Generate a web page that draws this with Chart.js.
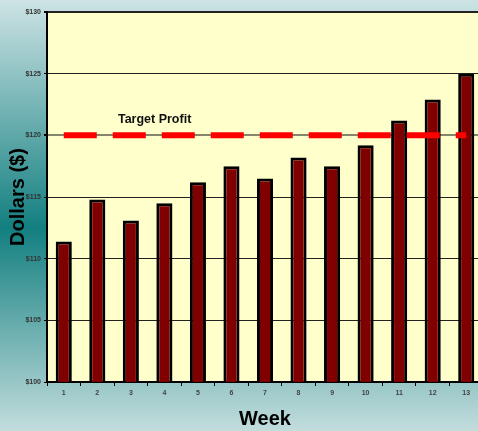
<!DOCTYPE html>
<html>
<head>
<meta charset="utf-8">
<script src="https://cdn.jsdelivr.net/npm/chart.js@4"></script>
<style>
  html, body {
    margin: 0;
    padding: 0;
    width: 478px;
    height: 431px;
    overflow: hidden;
    background: linear-gradient(to bottom, #cde3e4 0%, #137f80 53%, #c3dddd 100%);
  }
  #wrap { position: absolute; left: 0; top: 0; width: 483px; height: 431px; }
</style>
</head>
<body>
<div id="wrap"><canvas id="chart"></canvas></div>
<script>
const weeks = ['1', '2', '3', '4', '5', '6', '7', '8', '9', '10', '11', '12', '13'];
const profit = [111.4, 114.8, 113.1, 114.5, 116.2, 117.5, 116.5, 118.2, 117.5, 119.2, 121.2, 122.9, 125.0];
const target = 120;
const targetLabel = 'Target Profit';
const yMin = 100, yMax = 130, yStep = 5;

const FONT = '"Liberation Sans", Arial, sans-serif';

// yellow plot area + the "Target Profit" caption
const plotBg = {
    id: 'plotBg',
    beforeDraw(chart) {
        const { ctx, chartArea: a } = chart;
        ctx.save();
        ctx.fillStyle = '#ffffcc';
        ctx.fillRect(a.left, a.top, a.right - a.left, a.bottom - a.top);
        ctx.restore();
    },
    afterDatasetsDraw(chart) {
        const { ctx, scales } = chart;
        const x = (scales.x.getPixelForValue(2) + scales.x.getPixelForValue(3)) / 2 + 7;
        const y = scales.y.getPixelForValue(target) - 12;
        ctx.save();
        ctx.font = 'bold 12.5px ' + FONT;
        ctx.fillStyle = '#111';
        ctx.textAlign = 'center';
        ctx.textBaseline = 'alphabetic';
        ctx.fillText(targetLabel, x, y);
        ctx.restore();
    }
};

new Chart(document.getElementById('chart'), {
    data: {
        labels: weeks,
        datasets: [
            {
                type: 'line',
                data: weeks.map(() => target),
                borderColor: '#ff0000',
                borderWidth: 6,
                borderDash: [33, 16],
                borderCapStyle: 'butt',
                pointRadius: 0,
                fill: false,
                order: 0
            },
            {
                type: 'bar',
                data: profit,
                backgroundColor: '#800000',
                borderColor: '#000000',
                borderWidth: 3,
                barPercentage: 0.48,
                categoryPercentage: 1,
                order: 1
            }
        ]
    },
    options: {
        responsive: true,
        maintainAspectRatio: false,
        animation: false,
        layout: { padding: { top: 12, right: 0, left: 0, bottom: 0 } },
        plugins: { legend: { display: false }, tooltip: { enabled: false } },
        scales: {
            x: {
                offset: true,
                afterFit: s => { s.height = 49; },
                grid: { drawOnChartArea: false, color: '#000', tickLength: 4 },
                border: { color: '#000', width: 2 },
                ticks: { color: '#444', padding: 3, font: { family: FONT, size: 7, weight: 'bold' } },
                title: { display: true, text: 'Week', color: '#000', padding: { top: 0, bottom: 0 },
                         font: { family: FONT, size: 20, weight: 'bold' } }
            },
            y: {
                min: yMin,
                max: yMax,
                afterFit: s => { s.width = 47; },
                grid: {
                    color: c => c.tick && c.tick.value === target ? '#85856b' : '#222',
                    lineWidth: c => c.tick && c.tick.value === target ? 2 : (c.tick && c.tick.value === yMax ? 2 : 1),
                    tickColor: '#000',
                    tickLength: 3
                },
                border: { color: '#000', width: 2 },
                ticks: {
                    stepSize: yStep,
                    color: '#333',
                    padding: 3,
                    font: { family: FONT, size: 7, weight: 'bold' },
                    callback: v => '$' + v
                },
                title: { display: true, text: 'Dollars ($)', color: '#000', padding: { top: 6, bottom: 0 },
                         font: { family: FONT, size: 20, weight: 'bold' } }
            }
        }
    },
    plugins: [plotBg]
});
</script>
</body>
</html>
